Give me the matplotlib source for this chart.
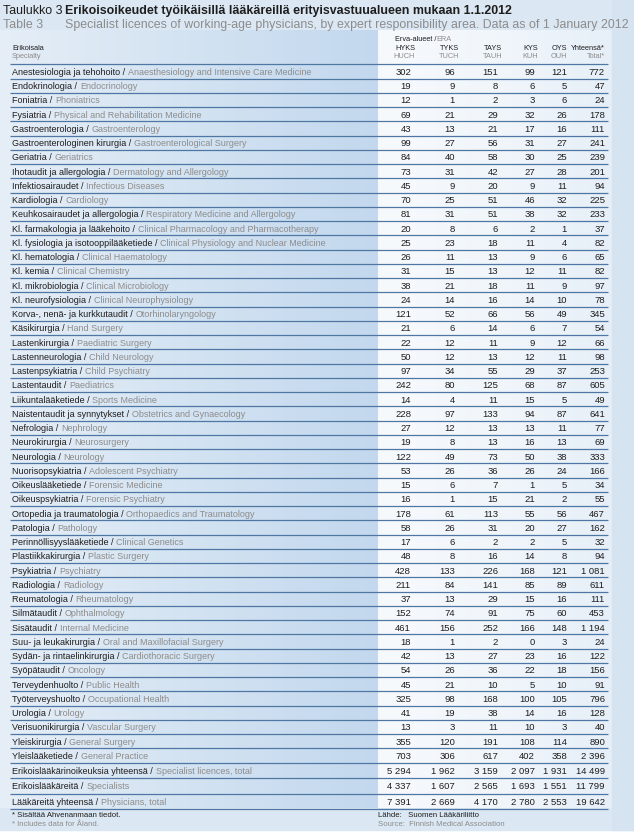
import numpy as np
import matplotlib
matplotlib.use("Agg")
import matplotlib.pyplot as plt
from matplotlib.colors import LinearSegmentedColormap

# Taulukon tiedot
specialty_fi = [
    "Anestesiologia ja tehohoito", "Endokrinologia", "Foniatria", "Fysiatria",
    "Gastroenterologia", "Gastroenterologinen kirurgia", "Geriatria",
    "Ihotaudit ja allergologia", "Infektiosairaudet", "Kardiologia",
    "Keuhkosairaudet ja allergologia", "Kl. farmakologia ja lääkehoito",
    "Kl. fysiologia ja isotooppilääketiede", "Kl. hematologia", "Kl. kemia",
    "Kl. mikrobiologia", "Kl. neurofysiologia", "Korva-, nenä- ja kurkkutaudit",
    "Käsikirurgia", "Lastenkirurgia", "Lastenneurologia", "Lastenpsykiatria",
    "Lastentaudit", "Liikuntalääketiede", "Naistentaudit ja synnytykset",
    "Nefrologia", "Neurokirurgia", "Neurologia", "Nuorisopsykiatria",
    "Oikeuslääketiede", "Oikeuspsykiatria", "Ortopedia ja traumatologia",
    "Patologia", "Perinnöllisyyslääketiede", "Plastiikkakirurgia", "Psykiatria",
    "Radiologia", "Reumatologia", "Silmätaudit", "Sisätaudit",
    "Suu- ja leukakirurgia", "Sydän- ja rintaelinkirurgia", "Syöpätaudit",
    "Terveydenhuolto", "Työterveyshuolto", "Urologia", "Verisuonikirurgia",
    "Yleiskirurgia", "Yleislääketiede",
    "Erikoislääkärinoikeuksia yhteensä", "Erikoislääkäreitä", "Lääkäreitä yhteensä",
]
specialty_en = [
    "Anaesthesiology and Intensive Care Medicine", "Endocrinology", "Phoniatrics",
    "Physical and Rehabilitation Medicine", "Gastroenterology",
    "Gastroenterological Surgery", "Geriatrics", "Dermatology and Allergology",
    "Infectious Diseases", "Cardiology", "Respiratory Medicine and Allergology",
    "Clinical Pharmacology and Pharmacotherapy",
    "Clinical Physiology and Nuclear Medicine", "Clinical Haematology",
    "Clinical Chemistry", "Clinical Microbiology", "Clinical Neurophysiology",
    "Otorhinolaryngology", "Hand Surgery", "Paediatric Surgery", "Child Neurology",
    "Child Psychiatry", "Paediatrics", "Sports Medicine", "Obstetrics and Gynaecology",
    "Nephrology", "Neurosurgery", "Neurology", "Adolescent Psychiatry",
    "Forensic Medicine", "Forensic Psychiatry", "Orthopaedics and Traumatology",
    "Pathology", "Clinical Genetics", "Plastic Surgery", "Psychiatry", "Radiology",
    "Rheumatology", "Ophthalmology", "Internal Medicine",
    "Oral and Maxillofacial Surgery", "Cardiothoracic Surgery", "Oncology",
    "Public Health", "Occupational Health", "Urology", "Vascular Surgery",
    "General Surgery", "General Practice",
    "Specialist licences, total", "Specialists", "Physicians, total",
]
hyks = [302, 19, 12, 69, 43, 99, 84, 73, 45, 70, 81, 20, 25, 26, 31, 38, 24, 121,
        21, 22, 50, 97, 242, 14, 228, 27, 19, 122, 53, 15, 16, 178, 58, 17, 48, 428,
        211, 37, 152, 461, 18, 42, 54, 45, 325, 41, 13, 355, 703, 5294, 4337, 7391]
tyks = [96, 9, 1, 21, 13, 27, 40, 31, 9, 25, 31, 8, 23, 11, 15, 21, 14, 52,
        6, 12, 12, 34, 80, 4, 97, 12, 8, 49, 26, 6, 1, 61, 26, 6, 8, 133,
        84, 13, 74, 156, 1, 13, 26, 21, 98, 19, 3, 120, 306, 1962, 1607, 2669]
tays = [151, 8, 2, 29, 21, 56, 58, 42, 20, 51, 51, 6, 18, 13, 13, 18, 16, 66,
        14, 11, 13, 55, 125, 11, 133, 13, 13, 73, 36, 7, 15, 113, 31, 2, 16, 226,
        141, 29, 91, 252, 2, 27, 36, 10, 168, 38, 11, 191, 617, 3159, 2565, 4170]
kys = [99, 6, 3, 32, 17, 31, 30, 27, 9, 46, 38, 2, 11, 9, 12, 11, 14, 56,
       6, 9, 12, 29, 68, 15, 94, 13, 16, 50, 26, 1, 21, 55, 20, 2, 14, 168,
       85, 15, 75, 166, 0, 23, 22, 5, 100, 14, 10, 108, 402, 2097, 1693, 2780]
oys = [121, 5, 6, 26, 16, 27, 25, 28, 11, 32, 32, 1, 4, 6, 11, 9, 10, 49,
       7, 12, 11, 37, 87, 5, 87, 11, 13, 38, 24, 5, 2, 56, 27, 5, 8, 121,
       89, 16, 60, 148, 3, 16, 18, 10, 105, 16, 3, 114, 358, 1931, 1551, 2553]
total = [772, 47, 24, 178, 111, 241, 239, 201, 94, 225, 233, 37, 82, 65, 82, 97, 78, 345,
         54, 66, 98, 253, 605, 49, 641, 77, 69, 333, 166, 34, 55, 467, 162, 32, 94, 1081,
         611, 111, 453, 1194, 24, 122, 156, 91, 796, 128, 40, 890, 2396, 14499, 11799, 19642]

col_codes_fi = ["HYKS", "TYKS", "TAYS", "KYS", "OYS", "Yhteensä*"]
col_codes_en = ["HUCH", "TUCH", "TAUH", "KUH", "OUH", "Total*"]
columns = [hyks, tyks, tays, kys, oys, total]

plt.rcParams["font.family"] = ["Liberation Sans", "DejaVu Sans"]

BLACK = "#1e1e1e"
GREY = "#8c8c8c"
LINE = "#4f77a3"

W, H = 634, 834
fig = plt.figure(figsize=(W / 100, H / 100), dpi=100)
fig.patch.set_facecolor("white")
ax = fig.add_axes([0, 0, 1, 1])

# Taustat
ax.add_patch(plt.Rectangle((0, 0), W, 830, color="#dbe7f3", zorder=0))
grad = np.linspace(0, 1, 256).reshape(1, -1)
cm_left = LinearSegmentedColormap.from_list("l", ["#e6eef7", "#d3e3f2", "#c3d8ee"])
cm_right = LinearSegmentedColormap.from_list("r", ["#f7fafd", "#f1f6fb", "#e6eff8"])
ax.imshow(grad, extent=[0, 378, 808, 30], cmap=cm_left, aspect="auto", zorder=1)
ax.imshow(grad, extent=[378, 612, 808, 30], cmap=cm_right, aspect="auto", zorder=1)
ax.add_patch(plt.Rectangle((612, 0), W - 612, 830, color="#d6e4f1", zorder=1))
ax.set_xlim(0, W)
ax.set_ylim(H, 0)
ax.axis("off")

# Otsikot
ts = 8.9
ax.text(3, 14, "Taulukko 3", fontsize=ts, color=BLACK, va="baseline")
ax.text(65, 14, "Erikoisoikeudet työikäisillä lääkäreillä erityisvastuualueen mukaan 1.1.2012",
        fontsize=ts, color=BLACK, fontweight="bold", va="baseline")
ax.text(3, 27.5, "Table 3", fontsize=ts, color=GREY, va="baseline")
ax.text(65, 27.5, "Specialist licences of working-age physicians, by expert responsibility area. "
        "Data as of 1 January 2012", fontsize=ts, color=GREY, va="baseline")

# Sarakeotsikot
col_right = [411, 455, 498, 535, 567, 605]
head_right = [415, 459, 502, 538, 567, 605]
hs = 5.3
ax.text(12, 49.5, "Erikoisala", fontsize=hs, color=BLACK, va="baseline")
ax.text(12, 57.5, "Specialty", fontsize=hs, color=GREY, va="baseline")
t = ax.text(395, 41, "Erva-alueet /", fontsize=hs, color=BLACK, va="baseline")
ax.annotate("ERA", xy=(1, 41), xycoords=(t, "data"), fontsize=hs, color=GREY,
            va="baseline", ha="left")
for code_fi, code_en, xh in zip(col_codes_fi, col_codes_en, head_right):
    ax.text(xh, 49.5, code_fi, fontsize=hs, color=BLACK, ha="right", va="baseline")
    ax.text(xh, 57.5, code_en, fontsize=hs, color=GREY, ha="right", va="baseline")

# Rivit
ys = []
y = 71.5
for i in range(len(specialty_fi)):
    ys.append(y)
    y += 15.3 if i >= 48 else 14.25

fs = 6.5
lines_y = [ys[0] - 7.2] + [(a + b) / 2 for a, b in zip(ys[:-1], ys[1:])] + [ys[-1] + 7.6]
ax.hlines(lines_y, 10, 608, color=LINE, lw=0.9, zorder=2)

for i, (fi, en) in enumerate(zip(specialty_fi, specialty_en)):
    base = ys[i] + 3.3
    t = ax.text(12, base, fi + " /", fontsize=fs, color=BLACK, va="baseline", zorder=3)
    ax.annotate(en, xy=(1, base), xycoords=(t, "data"), xytext=(2.0, 0),
                textcoords="offset points", fontsize=fs, color=GREY,
                va="baseline", ha="left", zorder=3)
    for col, xr in zip(columns, col_right):
        ax.text(xr, base, f"{col[i]:,}".replace(",", " "), fontsize=6.8, color=BLACK,
                ha="right", va="baseline", zorder=3)

# Alaviitteet
fn = 5.6
ax.text(12, 817, "* Sisältää Ahvenanmaan tiedot.", fontsize=fn, color=BLACK, va="baseline")
ax.text(12, 826, "* Includes data for Åland.", fontsize=fn, color=GREY, va="baseline")
ax.text(378, 817, "Lähde:   Suomen Lääkäriliitto", fontsize=fn, color=BLACK, va="baseline")
ax.text(378, 826, "Source:  Finnish Medical Association", fontsize=fn, color=GREY, va="baseline")

fig.savefig("out.png", dpi=100, facecolor=fig.get_facecolor())
